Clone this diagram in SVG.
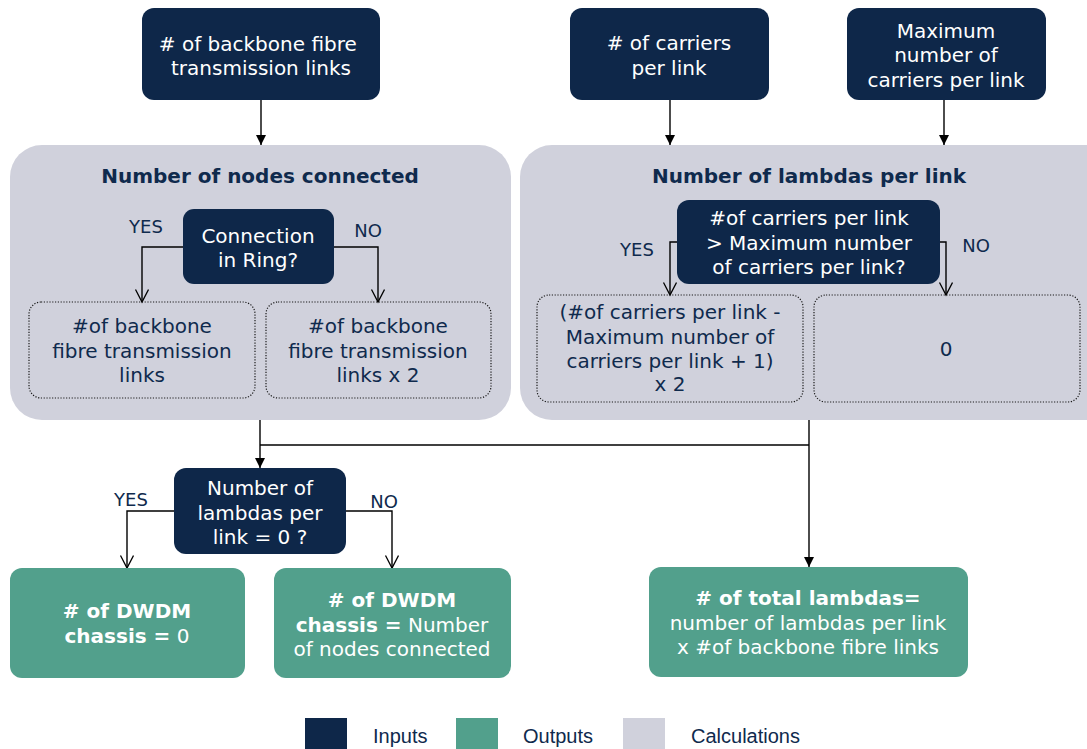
<svg xmlns="http://www.w3.org/2000/svg" width="1087" height="749" viewBox="0 0 1087 749">
<style>
.input{fill:#0e2749}
.output{fill:#52a08c}
.calc{fill:#d0d1dc}
.sub{fill:none;stroke:#1a1a1a;stroke-width:1.2;stroke-dasharray:1.2 1.6}
text{font-family:"DejaVu Sans",Verdana,sans-serif;font-size:20px;text-anchor:middle}
.w{fill:#ffffff}
.d{fill:#0f2a4d}
.t{font-weight:bold}
.yn{font-size:18px;fill:#0f2a4d}
.leg{font-family:"Liberation Sans",Arial,sans-serif;font-size:20px;fill:#0f2a4d;text-anchor:start}
.c{fill:none;stroke:#000;stroke-width:1.4}
</style>
<defs>
<marker id="fa" markerUnits="userSpaceOnUse" markerWidth="11" markerHeight="11" refX="10" refY="5" orient="auto">
<path d="M0,0 L10,5 L0,10 z" fill="#000"/>
</marker>
<marker id="oa" markerUnits="userSpaceOnUse" markerWidth="16" markerHeight="16" refX="13" refY="7" orient="auto">
<path d="M0.5,0.5 L13,7 L0.5,13.5" fill="none" stroke="#000" stroke-width="1.3"/>
</marker>
</defs>

<g id="panel-nodes">
<rect class="calc" x="10" y="145" width="501" height="275" rx="32"/>
<text class="d t" x="260" y="183">Number of nodes connected</text>
</g>
<g id="panel-lambdas">
<rect class="calc" x="520" y="145" width="600" height="275" rx="32"/>
<text class="d t" x="809" y="183">Number of lambdas per link</text>
</g>

<g id="connectors">
<line class="c" x1="261" y1="100" x2="261" y2="145" marker-end="url(#fa)"/>
<line class="c" x1="670" y1="100" x2="670" y2="145" marker-end="url(#fa)"/>
<line class="c" x1="944" y1="100" x2="944" y2="145" marker-end="url(#fa)"/>
<polyline class="c" points="183,247 142,247 142,302" marker-end="url(#oa)"/>
<polyline class="c" points="334,247 378,247 378,302" marker-end="url(#oa)"/>
<polyline class="c" points="677,242 670,242 670,295" marker-end="url(#oa)"/>
<polyline class="c" points="940,242 946,242 946,295" marker-end="url(#oa)"/>
<line class="c" x1="260" y1="420" x2="260" y2="468" marker-end="url(#fa)"/>
<line class="c" x1="260" y1="445" x2="809" y2="445"/>
<line class="c" x1="809" y1="420" x2="809" y2="567" marker-end="url(#fa)"/>
<polyline class="c" points="174,511 127,511 127,568" marker-end="url(#oa)"/>
<polyline class="c" points="346,511 392,511 392,568" marker-end="url(#oa)"/>
</g>

<g id="in-backbone">
<rect class="input" x="142" y="8" width="238" height="92" rx="12"/>
<text class="w" x="261" y="51">
<tspan x="261" y="51"># of backbone fibre</tspan>
<tspan x="261" y="75">transmission links</tspan>
</text>
</g>
<g id="in-carriers">
<rect class="input" x="570" y="8" width="199" height="92" rx="12"/>
<text class="w"><tspan x="669" y="50"># of carriers</tspan><tspan x="669" y="75">per link</tspan></text>
</g>
<g id="in-max">
<rect class="input" x="847" y="8" width="199" height="92" rx="12"/>
<text class="w"><tspan x="946" y="38">Maximum</tspan><tspan x="946" y="62">number of</tspan><tspan x="946" y="87">carriers per link</tspan></text>
</g>

<g id="dec-ring">
<rect class="input" x="183" y="209" width="151" height="75" rx="11"/>
<text class="w"><tspan x="258" y="243">Connection</tspan><tspan x="258" y="267">in Ring?</tspan></text>
<text class="yn" x="146" y="233">YES</text>
<text class="yn" x="368" y="237">NO</text>
</g>
<g id="calc-ring-yes">
<rect class="sub" x="29" y="302" width="226" height="96" rx="12"/>
<text class="d"><tspan x="142" y="333">#of backbone</tspan><tspan x="142" y="358">fibre transmission</tspan><tspan x="142" y="382">links</tspan></text>
</g>
<g id="calc-ring-no">
<rect class="sub" x="266" y="302" width="225" height="96" rx="12"/>
<text class="d"><tspan x="378" y="333">#of backbone</tspan><tspan x="378" y="358">fibre transmission</tspan><tspan x="378" y="382">links x 2</tspan></text>
</g>

<g id="dec-carriers">
<rect class="input" x="677" y="200" width="263" height="84" rx="12"/>
<text class="w"><tspan x="809" y="225">#of carriers per link</tspan><tspan x="809" y="250">&gt; Maximum number</tspan><tspan x="809" y="274">of carriers per link?</tspan></text>
<text class="yn" x="637" y="256">YES</text>
<text class="yn" x="976" y="252">NO</text>
</g>
<g id="calc-carriers-yes">
<rect class="sub" x="537" y="295" width="266" height="107" rx="12"/>
<text class="d"><tspan x="670" y="319">(#of carriers per link -</tspan><tspan x="670" y="344">Maximum number of</tspan><tspan x="670" y="368">carriers per link + 1)</tspan><tspan x="670" y="391">x 2</tspan></text>
</g>
<g id="calc-carriers-no">
<rect class="sub" x="814" y="295" width="266" height="107" rx="12"/>
<text class="d" x="946" y="356">0</text>
</g>

<g id="dec-lambdas">
<rect class="input" x="174" y="468" width="172" height="86" rx="12"/>
<text class="w"><tspan x="260" y="495">Number of</tspan><tspan x="260" y="520">lambdas per</tspan><tspan x="260" y="544">link = 0 ?</tspan></text>
<text class="yn" x="131" y="506">YES</text>
<text class="yn" x="384" y="508">NO</text>
</g>

<g id="out-dwdm-zero">
<rect class="output" x="10" y="568" width="235" height="110" rx="12"/>
<text class="w"><tspan x="127" y="618" class="t"># of DWDM</tspan><tspan x="127" y="643"><tspan class="t">chassis =</tspan> 0</tspan></text>
</g>
<g id="out-dwdm-nodes">
<rect class="output" x="274" y="568" width="237" height="110" rx="12"/>
<text class="w"><tspan x="392" y="607" class="t"># of DWDM</tspan><tspan x="392" y="632"><tspan class="t">chassis =</tspan> Number</tspan><tspan x="392" y="656">of nodes connected</tspan></text>
</g>
<g id="out-total">
<rect class="output" x="649" y="567" width="319" height="110" rx="12"/>
<text class="w"><tspan x="808" y="605" class="t"># of total lambdas=</tspan><tspan x="808" y="630">number of lambdas per link</tspan><tspan x="808" y="654">x #of backbone fibre links</tspan></text>
</g>

<g id="legend">
<rect class="input" x="305" y="718" width="42" height="31"/>
<text class="leg" x="373" y="743">Inputs</text>
<rect class="output" x="456" y="718" width="42" height="31"/>
<text class="leg" x="523" y="743">Outputs</text>
<rect class="calc" x="623" y="718" width="42" height="31"/>
<text class="leg" x="691" y="743">Calculations</text>
</g>
</svg>
